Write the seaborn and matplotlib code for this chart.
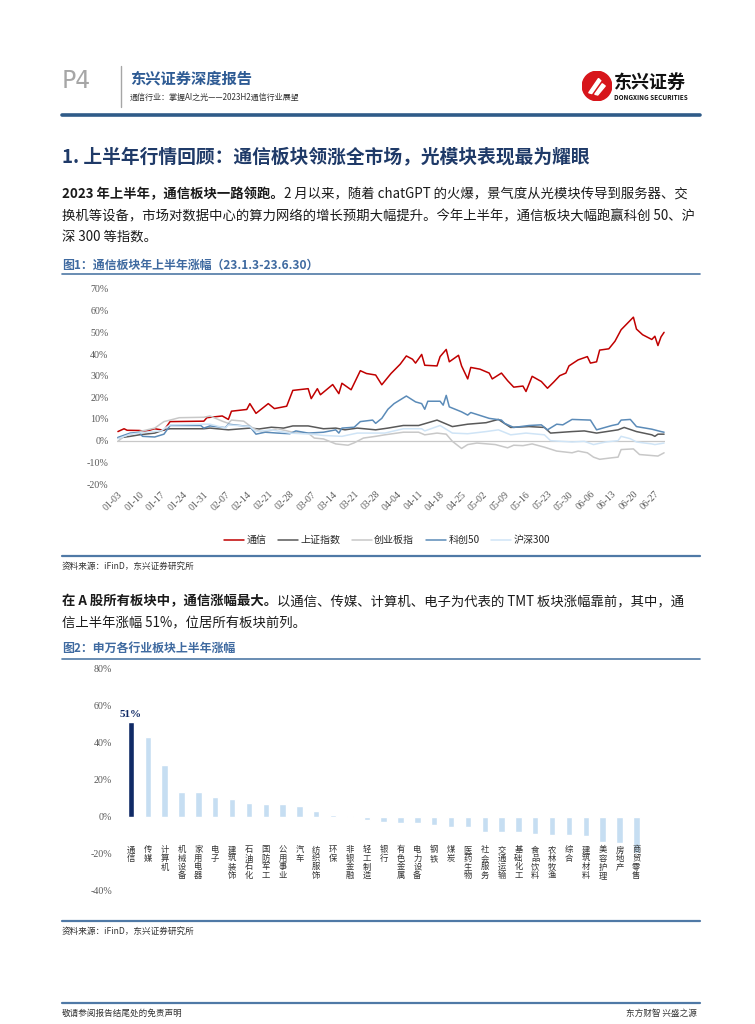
import numpy as np
import pandas as pd
import matplotlib
matplotlib.use("Agg")
import matplotlib.pyplot as plt
import seaborn as sns
from matplotlib.lines import Line2D
from matplotlib.patches import Circle, Polygon

# ---- chart 1 data: day offset from 2023-01-03, cumulative change in %
start = pd.Timestamp("2023-01-03")

tx_days = [0, 2, 3, 7, 9, 12, 15, 17, 28, 29, 34, 36, 37, 42, 43, 45, 49, 51, 55, 57,
           62, 63, 65, 66, 70, 72, 73, 76, 79, 81, 84, 86, 89, 92, 94, 96, 97, 99, 100, 104,
           105, 107, 108, 111, 112, 114, 115, 118, 121, 122, 125, 127, 129, 132, 133, 135, 138, 140, 142, 144,
           146, 147, 150, 153, 154, 156, 157, 160, 162, 164, 168, 169, 171, 174, 175, 176, 177, 178]
tx_vals = [4.2, 5.5, 4.8, 4.7, 4.3, 5.5, 4.8, 8.8, 9.0, 10.6, 11.4, 9.8, 13.6, 14.4, 17.1, 12.6, 17.1, 14.8, 15.9, 23.2,
           24.0, 19.4, 24.0, 21.2, 25.9, 21.7, 26.5, 23.5, 32.3, 31.0, 30.3, 25.8, 31.0, 35.3, 39.1, 37.6, 35.8, 39.8, 34.8, 34.5,
           38.8, 42.1, 36.4, 39.4, 34.5, 28.5, 33.8, 33.0, 31.2, 28.5, 31.2, 27.7, 24.7, 25.2, 22.7, 29.7, 27.3, 24.2, 27.0, 30.0,
           31.2, 34.5, 37.3, 38.8, 35.8, 36.4, 41.8, 42.4, 45.9, 51.2, 57.0, 51.5, 48.9, 46.7, 48.2, 43.9, 47.9, 50.0]

sz_days = [0, 4, 7, 12, 15, 17, 28, 30, 36, 43, 46, 50, 54, 57, 62, 67, 71, 74, 78, 84, 88,
           93, 98, 104, 109, 114, 120, 124, 128, 134, 139, 141, 148, 152, 156, 163, 165, 169, 174, 175, 176, 178]
sz_vals = [1.2, 2.0, 2.7, 3.5, 5.0, 5.5, 5.5, 5.8, 5.0, 5.8, 5.4, 6.2, 5.8, 6.8, 6.8, 5.5, 5.8, 5.0, 5.8, 5.0, 5.8,
           7.0, 7.0, 9.5, 6.5, 7.6, 8.3, 9.8, 6.1, 6.5, 6.1, 3.5, 4.2, 4.5, 3.5, 5.0, 6.1, 4.2, 2.7, 2.0, 3.0, 3.0]

cy_days = [0, 2, 7, 12, 15, 17, 20, 28, 30, 34, 36, 37, 41, 44, 47, 52, 57, 62, 64, 67, 71, 75, 77, 80, 84,
           87, 93, 98, 100, 104, 107, 109, 112, 114, 117, 123, 127, 129, 132, 135, 139, 143, 148, 150, 153,
           155, 157, 161, 163, 164, 168, 170, 176, 178]
cy_vals = [-0.3, 2.0, 4.2, 5.8, 8.8, 9.5, 10.6, 10.8, 11.4, 9.0, 8.0, 9.5, 9.0, 5.8, 3.9, 5.5, 3.9, 3.5, 1.2, 0.8, -1.5, -2.1, -1.0, 1.2, 2.0,
           2.7, 3.9, 3.9, 2.7, 3.5, 3.0, -0.3, -3.6, -1.8, -1.1, -1.8, -3.3, -2.1, -2.3, -1.5, -3.0, -4.8, -5.6, -4.8, -5.6,
           -7.6, -8.6, -7.9, -7.6, -4.1, -3.8, -6.4, -7.1, -5.6]

kc_days = [0, 4, 7, 8, 12, 15, 17, 27, 28, 30, 35, 36, 41, 43, 45, 48, 52, 56, 58, 62, 67, 71, 72, 73, 77, 79,
           83, 84, 86, 88, 90, 94, 97, 99, 100, 101, 105, 106, 107, 108, 112, 114, 115, 121, 125, 126, 129, 134,
           138, 140, 143, 145, 148, 154, 156, 161, 163, 164, 167, 169, 174, 177, 178]
kc_vals = [1.5, 3.5, 3.8, 2.0, 1.7, 3.0, 7.0, 7.0, 5.8, 6.8, 6.0, 7.6, 6.8, 6.5, 3.0, 3.9, 3.5, 3.2, 4.5, 3.5, 3.9, 5.0, 3.5, 5.8, 6.2, 8.8,
           9.5, 8.0, 10.3, 14.5, 17.1, 20.6, 17.9, 17.1, 14.5, 18.2, 18.2, 16.4, 20.9, 15.6, 13.3, 11.8, 13.0, 10.3, 9.5, 8.0, 6.1, 7.0,
           7.3, 5.0, 7.6, 7.3, 9.8, 9.5, 5.0, 7.0, 7.6, 9.5, 9.8, 6.5, 5.3, 4.2, 3.9]

hs_days = [0, 4, 9, 14, 17, 28, 30, 35, 36, 43, 45, 50, 56, 63, 67, 73, 78, 84, 87, 93, 99, 100, 105, 109,
           114, 120, 124, 128, 133, 139, 141, 148, 152, 155, 159, 163, 164, 167, 169, 174, 175, 178]
hs_vals = [0.9, 3.0, 3.9, 4.5, 7.3, 7.6, 7.6, 5.8, 7.3, 6.5, 4.2, 5.0, 3.5, 3.0, 2.4, 2.0, 3.5, 3.5, 3.5, 5.5, 5.5, 4.5, 7.0, 3.5,
           3.2, 4.2, 5.0, 2.7, 3.5, 2.7, 0.0, -0.6, -0.3, -1.8, -0.6, 0.0, 2.0, 0.9, -0.6, -1.5, -1.8, -1.1]

series_names = ["通信", "上证指数", "创业板指", "科创50", "沪深300"]
series_colors = ["#c00000", "#595959", "#c8c8c8", "#5b8bb8", "#cfe4f6"]

# ---- chart 2 data
industries = ["通信", "传媒", "计算机", "机械设备", "家用电器", "电子", "建筑装饰", "石油石化", "国防军工",
              "公用事业", "汽车", "纺织服饰", "环保", "非银金融", "轻工制造", "银行", "有色金属", "电力设备",
              "钢铁", "煤炭", "医药生物", "社会服务", "交通运输", "基础化工", "食品饮料", "农林牧渔", "综合",
              "建筑材料", "美容护理", "房地产", "商贸零售"]
ind_change = [51.0, 42.7, 27.6, 13.5, 13.3, 10.7, 9.6, 7.1, 6.9, 6.8, 5.8, 3.1, 0.9, 0.4, -1.6, -2.7, -3.3, -3.5,
              -4.4, -5.5, -5.6, -8.2, -8.2, -8.3, -9.1, -9.8, -9.9, -10.4, -13.6, -14.2, -19.5]

sns.set_theme(style="white")
plt.rcParams["font.family"] = ["Noto Sans CJK SC", "DejaVu Sans"]
plt.rcParams["axes.unicode_minus"] = False

W, H = 755, 1024
fig = plt.figure(figsize=(W / 100, H / 100), dpi=100)
renderer = fig.canvas.get_renderer()

BLUE_LINE = "#4f79a6"
TEXT = "#1a1a1a"


def fx(x):
    return x / W


def fy(y):
    return 1 - y / H


def hline(y, x0=62, x1=700, lw=1.2, color=BLUE_LINE):
    fig.add_artist(Line2D([fx(x0), fx(x1)], [fy(y), fy(y)], transform=fig.transFigure,
                          color=color, lw=lw))


def rich(x, y, parts, size=9.6):
    # draw text pieces with different weights on one line
    for s, w in parts:
        t = fig.text(fx(x), fy(y), s, fontsize=size, fontweight=w, color=TEXT, va="center", ha="left")
        x += t.get_window_extent(renderer).width


# ---- header
fig.text(fx(62), fy(81), "P4", fontsize=17, color="#a6a6a6", family="DejaVu Sans", va="center")
fig.add_artist(Line2D([fx(121), fx(121)], [fy(66), fy(107)], transform=fig.transFigure, color="#a6a6a6", lw=1))
fig.text(fx(130), fy(79), "东兴证券深度报告", fontsize=11, fontweight="bold", color="#2e5b94", va="center")
fig.text(fx(130), fy(97), "通信行业：掌握AI之光——2023H2通信行业展望", fontsize=5.8, color="#333333", va="center")

logo = fig.add_axes([fx(582), fy(101), 30 / W, 30 / H])
logo.set_xlim(-1, 1)
logo.set_ylim(-1, 1)
logo.set_aspect("equal")
logo.axis("off")
logo.add_patch(Circle((0, 0), 0.98, color="#d7151b"))
logo.add_patch(Polygon([[-0.55, -0.45], [0.1, 0.5], [0.25, 0.35], [-0.35, -0.5]], color="white"))
logo.add_patch(Polygon([[-0.15, -0.55], [0.35, 0.15], [0.55, 0.0], [0.05, -0.6]], color="white"))
fig.text(fx(614), fy(82), "东兴证券", fontsize=13, fontweight="bold", color="#111111", va="center")
fig.text(fx(614), fy(97), "DONGXING SECURITIES", fontsize=4.6, fontweight="bold", color="#111111", va="center")
hline(115, lw=2.6, color="#2f5b88")

# ---- section text
fig.text(fx(62), fy(157), "1. 上半年行情回顾：通信板块领涨全市场，光模块表现最为耀眼", fontsize=13.5,
         fontweight="bold", color="#1f3a68", va="center")
rich(62, 194, [("2023 年上半年，通信板块一路领跑。", "bold"),
               ("2 月以来，随着 chatGPT 的火爆，景气度从光模块传导到服务器、交", "normal")])
rich(62, 216, [("换机等设备，市场对数据中心的算力网络的增长预期大幅提升。今年上半年，通信板块大幅跑赢科创 50、沪", "normal")])
rich(62, 238, [("深 300 等指数。", "normal")])

fig.text(fx(62), fy(265), "图1：通信板块年上半年涨幅（23.1.3-23.6.30）", fontsize=8.6, fontweight="bold",
         color="#3f6aa0", va="center")
hline(274)

# ---- chart 1
ax1 = fig.add_axes([fx(117), fy(484), (665 - 117) / W, (484 - 289) / H])
for name, days, vals, col in zip(series_names,
                                 [tx_days, sz_days, cy_days, kc_days, hs_days],
                                 [tx_vals, sz_vals, cy_vals, kc_vals, hs_vals],
                                 series_colors):
    df = pd.DataFrame({"date": start + pd.to_timedelta(days, unit="D"), "value": vals})
    sns.lineplot(data=df, x="date", y="value", color=col, lw=1.1, ax=ax1, label=name)
ax1.axhline(0, color="#c8c8c8", lw=0.9, zorder=0)
ax1.set_ylim(-20, 70)
ax1.set_yticks(range(-20, 71, 10))
ax1.set_yticklabels([f"{v}%" for v in range(-20, 71, 10)], family="Liberation Serif", fontsize=7.2, color="#595959")
ticks = pd.date_range("2023-01-03", "2023-06-27", freq="7D")
ax1.set_xticks(ticks)
ax1.set_xticklabels([t.strftime("%m-%d") for t in ticks], rotation=45, ha="right", rotation_mode="anchor",
                    family="Liberation Serif", fontsize=7, color="#595959")
ax1.set_xlim(start - pd.Timedelta(days=0.3), pd.Timestamp("2023-06-30") + pd.Timedelta(days=0.3))
ax1.tick_params(axis="both", length=0, pad=6)
ax1.tick_params(axis="x", pad=4)
ax1.set_xlabel("")
ax1.set_ylabel("")
sns.despine(ax=ax1, left=True, bottom=True)
ax1.legend(loc="center", bbox_to_anchor=(fx(387), fy(540)), bbox_transform=fig.transFigure, ncol=5,
           frameon=False, fontsize=7.2, handlelength=2.0, columnspacing=1.2, handletextpad=0.2)

hline(556, lw=1.6)
fig.text(fx(62), fy(566), "资料来源：iFinD，东兴证券研究所", fontsize=6.2, color="#333333", va="center", style="italic")

rich(62, 601, [("在 A 股所有板块中，通信涨幅最大。", "bold"),
               ("以通信、传媒、计算机、电子为代表的 TMT 板块涨幅靠前，其中，通", "normal")])
rich(62, 623, [("信上半年涨幅 51%，位居所有板块前列。", "normal")])
fig.text(fx(62), fy(648), "图2：申万各行业板块上半年涨幅", fontsize=8.6, fontweight="bold", color="#3f6aa0", va="center")
hline(659)

# ---- chart 2
ax2 = fig.add_axes([fx(117), fy(891), (665 - 117) / W, (891 - 668) / H])
bar_colors = ["#102a66"] + ["#c6def2"] * (len(industries) - 1)
sns.barplot(x=industries, y=ind_change, hue=industries, palette=bar_colors, width=0.38,
            legend=False, ax=ax2, saturation=1)
sns.despine(ax=ax2, left=True, bottom=True)
ax2.set_ylim(-40, 80)
ax2.set_xlim(-0.83, 31.7)
ax2.set_yticks(range(-40, 81, 20))
ax2.set_yticklabels([f"{v}%" for v in range(-40, 81, 20)], family="Liberation Serif", fontsize=7.2, color="#595959")
ax2.tick_params(axis="both", length=0)
ax2.set_xticks(range(len(industries)))
ax2.set_xticklabels([])
# vertical category names hang from just under the -15% level
for i, name in enumerate(industries):
    ax2.text(i, -15.5, "\n".join(name), ha="center", va="top", fontsize=6.0, linespacing=0.93,
             color="#333333")
ax2.set_xlabel("")
ax2.set_ylabel("")
ax2.text(0, ind_change[0] + 1.5, f"{ind_change[0]:.0f}%", ha="center", va="bottom", fontsize=8,
         fontweight="bold", family="Liberation Serif", color="#102a66")

hline(921, lw=1.6)
fig.text(fx(62), fy(931), "资料来源：iFinD，东兴证券研究所", fontsize=6.2, color="#333333", va="center", style="italic")

hline(1003, lw=1.6)
fig.text(fx(62), fy(1013), "敬请参阅报告结尾处的免责声明", fontsize=6.2, color="#333333", va="center")
fig.text(fx(697), fy(1013), "东方财智 兴盛之源", fontsize=6.2, color="#333333", va="center", ha="right")

fig.savefig("out.png", dpi=100)
